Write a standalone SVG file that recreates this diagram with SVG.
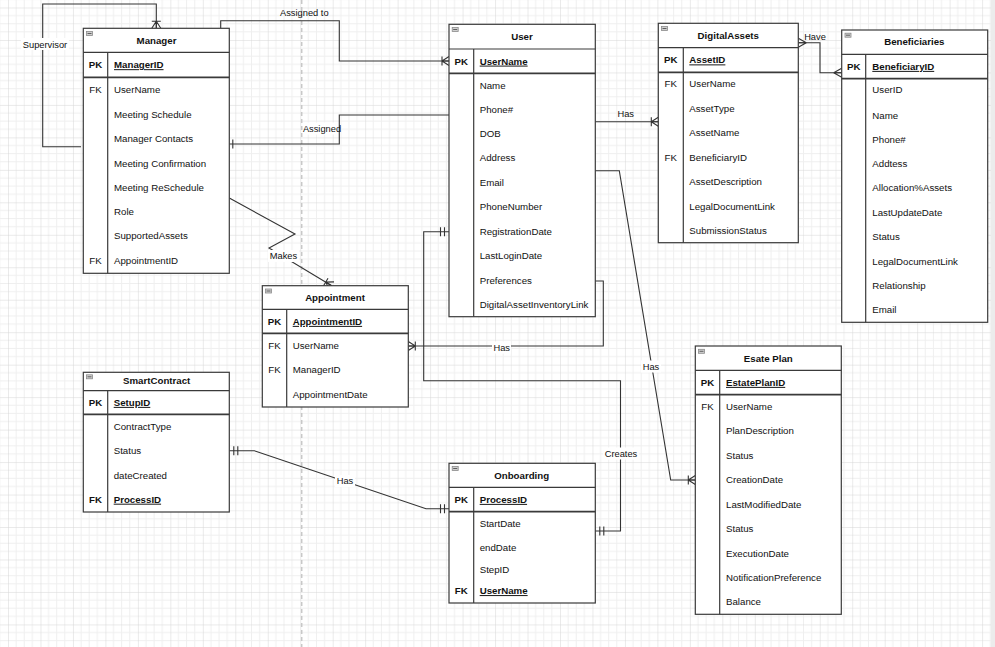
<svg xmlns="http://www.w3.org/2000/svg" width="995" height="647" viewBox="0 0 995 647">
<style>
.t{font-family:"Liberation Sans",Arial,sans-serif;font-size:9.7px;fill:#111}
.l{font-family:"Liberation Sans",Arial,sans-serif;font-size:9.3px;fill:#111;text-anchor:middle}
.b{font-weight:bold}
.c{text-anchor:middle}
.u{text-decoration:underline}
.box{fill:#fff;stroke:#3a3a3a;stroke-width:1.2}
.sep{stroke:#3a3a3a;stroke-width:1.2;fill:none}
.pk{stroke:#3a3a3a;stroke-width:1.8;fill:none}
.edge{fill:none;stroke:#333;stroke-width:1.1}
.mk{fill:none;stroke:#333;stroke-width:1.1}
.lbg{fill:#fff}
.ico{fill:#cfcfcf;stroke:#8a8a8a;stroke-width:0.8}
</style>
<defs>
<pattern id="grid" patternUnits="userSpaceOnUse" x="8" y="7.5" width="32.47" height="32.47">
<path d="M8.12,0V32.47M16.24,0V32.47M24.35,0V32.47M0,8.12H32.47M0,16.24H32.47M0,24.35H32.47" stroke="#efefef" stroke-width="1"/>
<path d="M0,0V32.47M0,0H32.47" stroke="#d6d6d6" stroke-width="1"/>
</pattern>
<marker id="otm" markerUnits="userSpaceOnUse" orient="auto-start-reverse" markerWidth="20" markerHeight="20" refX="0" refY="0" viewBox="-12 -10 14 20" overflow="visible">
<path class="mk" d="M-7,-4.5V4.5M-7,0L0,-4.5M-7,0L0,0M-7,0L0,4.5"/>
</marker>
<marker id="many" markerUnits="userSpaceOnUse" orient="auto-start-reverse" markerWidth="20" markerHeight="20" refX="0" refY="0" viewBox="-12 -10 14 20" overflow="visible">
<path class="mk" d="M-8,0L0,-4.5M-8,0L0,0M-8,0L0,4.5"/>
</marker>
<marker id="mo" markerUnits="userSpaceOnUse" orient="auto-start-reverse" markerWidth="20" markerHeight="20" refX="0" refY="0" viewBox="-12 -10 14 20" overflow="visible">
<path class="mk" d="M-4.5,-4.5V4.5M-8.5,-4.5V4.5"/>
</marker>
<marker id="one" markerUnits="userSpaceOnUse" orient="auto-start-reverse" markerWidth="20" markerHeight="20" refX="0" refY="0" viewBox="-12 -10 14 20" overflow="visible">
<path class="mk" d="M-3.5,-4.5V4.5"/>
</marker>
</defs>
<rect width="995" height="647" fill="#fff"/>
<rect width="995" height="647" fill="url(#grid)"/>
<line x1="301.7" y1="0" x2="301.7" y2="647" stroke="#c8c8c8" stroke-width="1.5" stroke-dasharray="4,3"/>
<rect x="991" y="0" width="4" height="647" fill="#ececec"/>

<g id="connectors">
<path class="edge" d="M81,146.7H42.7V4H156.3V28.3" marker-end="url(#otm)"/>
<path class="edge" d="M220.7,28.3V20.7H339.3V61H449" marker-end="url(#otm)"/>
<path class="edge" d="M229.3,144H339.3V115H449" marker-start="url(#one)"/>
<path class="edge" d="M595.3,121.7H658.3" marker-end="url(#otm)"/>
<path class="edge" d="M798.3,42.7H820V72.7H841.7" marker-start="url(#many)" marker-end="url(#many)"/>
<path class="edge" d="M229.3,198L295,234L269,248L331.7,285.7" marker-end="url(#otm)"/>
<path class="edge" d="M595.3,281H603.3V346H408.3" marker-end="url(#otm)"/>
<path class="edge" d="M595.3,170.7H619.3L670.7,480H695.3" marker-end="url(#otm)"/>
<path class="edge" d="M449,231.7H423.7V380.7H620.5V531H595.3" marker-start="url(#mo)" marker-end="url(#mo)"/>
<path class="edge" d="M229.3,450.7H254.3L426,508.7H449" marker-start="url(#mo)" marker-end="url(#mo)"/>
<rect class="lbg" x="21" y="38" width="48" height="12"/>
<text class="l" x="45" y="47.5">Supervisor</text>
<text class="l" x="304.3" y="16">Assigned to</text>
<rect class="lbg" x="305" y="122.5" width="33" height="12"/>
<text class="l" x="322" y="132">Assigned</text>
<text class="l" x="625.7" y="116.5">Has</text>
<text class="l" x="815" y="40">Have</text>
<rect class="lbg" x="268" y="250" width="31" height="12"/>
<text class="l" x="283.5" y="259.3">Makes</text>
<rect class="lbg" x="492" y="341.5" width="19" height="12"/>
<text class="l" x="501.7" y="351">Has</text>
<rect class="lbg" x="641" y="360.5" width="20" height="12"/>
<text class="l" x="651" y="370">Has</text>
<rect class="lbg" x="603" y="447.5" width="36" height="12"/>
<text class="l" x="621" y="457">Creates</text>
<rect class="lbg" x="335" y="475" width="20" height="12"/>
<text class="l" x="345" y="484.3">Has</text>
</g>

<g id="manager">
<rect class="box" x="83.3" y="28.3" width="146" height="245"/>
<path class="sep" d="M83.3,52.3H229.3M107.7,52.3V273.3"/>
<path class="pk" d="M83.3,77.3H229.3"/>
<rect class="ico" x="86.5" y="31.5" width="6" height="4"/><path d="M87.5,33.5H91.5" stroke="#444" stroke-width="0.8"/>
<text class="t b c" x="156.5" y="44.4">Manager</text>
<text class="t b c" x="95.5" y="68.2">PK</text><text class="t b u" x="114" y="68.2">ManagerID</text>
<text class="t c" x="95.5" y="93.4">FK</text><text class="t" x="114" y="93.4">UserName</text>
<text class="t" x="114" y="118.4">Meeting Schedule</text>
<text class="t" x="114" y="142.4">Manager Contacts</text>
<text class="t" x="114" y="167.4">Meeting Confirmation</text>
<text class="t" x="114" y="191.4">Meeting ReSchedule</text>
<text class="t" x="114" y="215.4">Role</text>
<text class="t" x="114" y="239.4">SupportedAssets</text>
<text class="t c" x="95.5" y="264.4">FK</text><text class="t" x="114" y="264.4">AppointmentID</text>
</g>

<g id="user">
<rect class="box" x="449" y="24.3" width="146.3" height="292.4"/>
<path class="sep" d="M449,49H595.3M473.7,49V316.7"/>
<path class="pk" d="M449,73.3H595.3"/>
<rect class="ico" x="452.2" y="27.5" width="6" height="4"/><path d="M453.2,29.5H457.2" stroke="#444" stroke-width="0.8"/>
<text class="t b c" x="522" y="40.1">User</text>
<text class="t b c" x="461.3" y="64.6">PK</text><text class="t b u" x="479.7" y="64.6">UserName</text>
<text class="t" x="479.7" y="89.1">Name</text>
<text class="t" x="479.7" y="113.4">Phone#</text>
<text class="t" x="479.7" y="137.1">DOB</text>
<text class="t" x="479.7" y="161.4">Address</text>
<text class="t" x="479.7" y="186.1">Email</text>
<text class="t" x="479.7" y="210.4">PhoneNumber</text>
<text class="t" x="479.7" y="235.1">RegistrationDate</text>
<text class="t" x="479.7" y="259.4">LastLoginDate</text>
<text class="t" x="479.7" y="284.4">Preferences</text>
<text class="t" x="479.7" y="308.4">DigitalAssetInventoryLink</text>
</g>

<g id="digitalassets">
<rect class="box" x="658.3" y="23.3" width="140" height="219.4"/>
<path class="sep" d="M658.3,47.7H798.3M683.3,47.7V242.7"/>
<path class="pk" d="M658.3,72.3H798.3"/>
<rect class="ico" x="661.5" y="26.5" width="6" height="4"/><path d="M662.5,28.5H666.5" stroke="#444" stroke-width="0.8"/>
<text class="t b c" x="728.3" y="39.1">DigitalAssets</text>
<text class="t b c" x="670.8" y="63.4">PK</text><text class="t b u" x="689.3" y="63.4">AssetID</text>
<text class="t c" x="670.8" y="86.7">FK</text><text class="t" x="689.3" y="86.7">UserName</text>
<text class="t" x="689.3" y="112.1">AssetType</text>
<text class="t" x="689.3" y="136.1">AssetName</text>
<text class="t c" x="670.8" y="160.7">FK</text><text class="t" x="689.3" y="160.7">BeneficiaryID</text>
<text class="t" x="689.3" y="185.1">AssetDescription</text>
<text class="t" x="689.3" y="210.1">LegalDocumentLink</text>
<text class="t" x="689.3" y="234.1">SubmissionStatus</text>
</g>

<g id="beneficiaries">
<rect class="box" x="841.7" y="30" width="146" height="292.3"/>
<path class="sep" d="M841.7,54.3H987.7M865.7,54.3V322.3"/>
<path class="pk" d="M841.7,78.7H987.7"/>
<rect class="ico" x="845" y="33.2" width="6" height="4"/><path d="M846,35.2H850" stroke="#444" stroke-width="0.8"/>
<text class="t b c" x="914.3" y="45.1">Beneficiaries</text>
<text class="t b c" x="853.7" y="69.9">PK</text><text class="t b u" x="872.3" y="69.9">BeneficiaryID</text>
<text class="t" x="872.3" y="93.4">UserID</text>
<text class="t" x="872.3" y="119.1">Name</text>
<text class="t" x="872.3" y="143.1">Phone#</text>
<text class="t" x="872.3" y="167.1">Addtess</text>
<text class="t" x="872.3" y="191.4">Allocation%Assets</text>
<text class="t" x="872.3" y="216.1">LastUpdateDate</text>
<text class="t" x="872.3" y="240.1">Status</text>
<text class="t" x="872.3" y="264.7">LegalDocumentLink</text>
<text class="t" x="872.3" y="288.7">Relationship</text>
<text class="t" x="872.3" y="313.4">Email</text>
</g>

<g id="appointment">
<rect class="box" x="262.3" y="285.7" width="146" height="121.3"/>
<path class="sep" d="M262.3,309.3H408.3M286.7,309.3V407"/>
<path class="pk" d="M262.3,333.3H408.3"/>
<rect class="ico" x="265.5" y="289" width="6" height="4"/><path d="M266.5,291H270.5" stroke="#444" stroke-width="0.8"/>
<text class="t b c" x="335" y="300.7">Appointment</text>
<text class="t b c" x="274.5" y="324.9">PK</text><text class="t b u" x="292.7" y="324.9">AppointmentID</text>
<text class="t c" x="274.5" y="349.1">FK</text><text class="t" x="292.7" y="349.1">UserName</text>
<text class="t c" x="274.5" y="373.1">FK</text><text class="t" x="292.7" y="373.1">ManagerID</text>
<text class="t" x="292.7" y="398.1">AppointmentDate</text>
</g>

<g id="smartcontract">
<rect class="box" x="83.3" y="372.3" width="146" height="139.7"/>
<path class="sep" d="M83.3,390.7H229.3M107.7,390.7V512"/>
<path class="pk" d="M83.3,414.3H229.3"/>
<rect class="ico" x="86.5" y="374.8" width="6" height="4"/><path d="M87.5,376.8H91.5" stroke="#444" stroke-width="0.8"/>
<text class="t b c" x="156.7" y="384.1">SmartContract</text>
<text class="t b c" x="95.5" y="405.9">PK</text><text class="t b u" x="113.7" y="405.9">SetupID</text>
<text class="t" x="113.7" y="430.1">ContractType</text>
<text class="t" x="113.7" y="454.1">Status</text>
<text class="t" x="113.7" y="479.1">dateCreated</text>
<text class="t b c" x="95.5" y="502.7">FK</text><text class="t b u" x="113.7" y="502.7">ProcessID</text>
</g>

<g id="onboarding">
<rect class="box" x="449" y="463.3" width="146.3" height="139.7"/>
<path class="sep" d="M449,487.3H595.3M473.7,487.3V603"/>
<path class="pk" d="M449,511.7H595.3"/>
<rect class="ico" x="452.2" y="466.5" width="6" height="4"/><path d="M453.2,468.5H457.2" stroke="#444" stroke-width="0.8"/>
<text class="t b c" x="521.7" y="479.1">Onboarding</text>
<text class="t b c" x="461.3" y="502.9">PK</text><text class="t b u" x="479.7" y="502.9">ProcessID</text>
<text class="t" x="479.7" y="526.7">StartDate</text>
<text class="t" x="479.7" y="551.1">endDate</text>
<text class="t" x="479.7" y="573.1">StepID</text>
<text class="t b c" x="461.3" y="594.1">FK</text><text class="t b u" x="479.7" y="594.1">UserName</text>
</g>

<g id="estateplan">
<rect class="box" x="695.3" y="346" width="146" height="268.3"/>
<path class="sep" d="M695.3,370.3H841.3M719.7,370.3V614.3"/>
<path class="pk" d="M695.3,394.7H841.3"/>
<rect class="ico" x="698.5" y="349.3" width="6" height="4"/><path d="M699.5,351.3H703.5" stroke="#444" stroke-width="0.8"/>
<text class="t b c" x="768.3" y="362.1">Esate Plan</text>
<text class="t b c" x="707.5" y="385.9">PK</text><text class="t b u" x="726" y="385.9">EstatePlanID</text>
<text class="t c" x="707.5" y="410.1">FK</text><text class="t" x="726" y="410.1">UserName</text>
<text class="t" x="726" y="434.1">PlanDescription</text>
<text class="t" x="726" y="459.1">Status</text>
<text class="t" x="726" y="482.7">CreationDate</text>
<text class="t" x="726" y="508.1">LastModifiedDate</text>
<text class="t" x="726" y="532.4">Status</text>
<text class="t" x="726" y="556.7">ExecutionDate</text>
<text class="t" x="726" y="581.1">NotificationPreference</text>
<text class="t" x="726" y="605.1">Balance</text>
</g>
</svg>
